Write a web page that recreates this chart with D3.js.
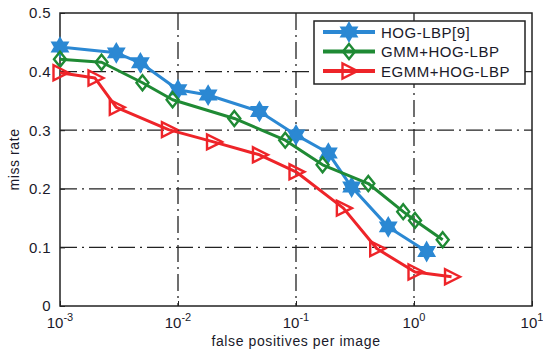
<!DOCTYPE html>
<html>
<head>
<meta charset="utf-8">
<script src="https://cdn.jsdelivr.net/npm/d3@7"></script>
<style>
  body { margin: 0; background: #fff; }
  text { font-family: "Liberation Sans", Arial, sans-serif; fill: #1a1a2a; }
</style>
</head>
<body>
<div id="chart"></div>
<script>
// values
var hogFppi = [0.001, 0.0030, 0.0048, 0.010, 0.018, 0.049, 0.10, 0.188, 0.296, 0.605, 1.28];
var hogMiss = [0.442, 0.432, 0.415, 0.369, 0.360, 0.332, 0.292, 0.261, 0.203, 0.135, 0.093];

var gmmFppi = [0.001, 0.00225, 0.0050, 0.0090, 0.030, 0.081, 0.168, 0.41, 0.81, 1.02, 1.75];
var gmmMiss = [0.421, 0.416, 0.381, 0.352, 0.320, 0.283, 0.241, 0.209, 0.161, 0.146, 0.113];

var egmmFppi = [0.001, 0.00198, 0.0030, 0.0083, 0.020, 0.049, 0.10, 0.252, 0.483, 1.02, 2.08];
var egmmMiss = [0.398, 0.389, 0.339, 0.301, 0.280, 0.258, 0.229, 0.167, 0.098, 0.058, 0.050];

var seriesNames = ["HOG-LBP[9]", "GMM+HOG-LBP", "EGMM+HOG-LBP"];
var seriesColors = ["#2b88d3", "#1f8a34", "#ee2429"];
var seriesMarkers = ["hexagram", "diamond", "triangleRight"];

var xTicks = [1e-3, 1e-2, 1e-1, 1e0, 1e1];
var xExps = ["-3", "-2", "-1", "0", "1"];
var yTicks = [0, 0.1, 0.2, 0.3, 0.4, 0.5];

var W = 543, H = 358;
var margin = {top: 13, right: 11, bottom: 52, left: 60};
var width = W - margin.left - margin.right,
    height = H - margin.top - margin.bottom;

var svg = d3.select("#chart").append("svg")
  .attr("width", W)
  .attr("height", H);
var g = svg.append("g")
  .attr("transform", "translate(" + margin.left + "," + margin.top + ")");

var x = d3.scaleLog().domain([1e-3, 1e1]).range([0, width]);
var y = d3.scaleLinear().domain([0, 0.5]).range([height, 0]);

var series = [
  {fppi: hogFppi, miss: hogMiss},
  {fppi: gmmFppi, miss: gmmMiss},
  {fppi: egmmFppi, miss: egmmMiss}
].map(function(s, i) {
  return {
    name: seriesNames[i], color: seriesColors[i], marker: seriesMarkers[i],
    points: s.fppi.map(function(f, j) { return {x: f, y: s.miss[j]}; })
  };
});

// marker shapes
function markerPath(type) {
  var p = d3.path();
  if (type == "hexagram") {
    var ro = 8.5, ri = ro / Math.sqrt(3);
    for (var k = 0; k < 12; k++) {
      var r = k % 2 == 0 ? ro : ri;
      var a = -Math.PI / 2 + k * Math.PI / 6;
      if (k == 0) p.moveTo(r * Math.cos(a), r * Math.sin(a));
      else p.lineTo(r * Math.cos(a), r * Math.sin(a));
    }
    p.closePath();
  } else if (type == "diamond") {
    p.moveTo(0, -7.5); p.lineTo(6, 0); p.lineTo(0, 7.5); p.lineTo(-6, 0); p.closePath();
  } else {
    p.moveTo(8.5, 0); p.lineTo(-6.5, -7.5); p.lineTo(-6.5, 7.5); p.closePath();
  }
  return p.toString();
}

// grid
var dash = "17,5,2,5";
g.selectAll(".xgrid")
  .data(xTicks.slice(1, -1))
  .enter().append("line")
  .attr("x1", d => x(d)).attr("x2", d => x(d))
  .attr("y1", 0).attr("y2", height)
  .attr("stroke", "#222").attr("stroke-width", 1.3)
  .attr("stroke-dasharray", dash);
g.selectAll(".ygrid")
  .data(yTicks.slice(1, -1))
  .enter().append("line")
  .attr("x1", 0).attr("x2", width)
  .attr("y1", d => y(d)).attr("y2", d => y(d))
  .attr("stroke", "#222").attr("stroke-width", 1.3)
  .attr("stroke-dasharray", dash);

// frame
g.append("rect")
  .attr("width", width).attr("height", height)
  .attr("fill", "none").attr("stroke", "#222").attr("stroke-width", 1.5);

// axes (ticks inside, custom labels)
var yAxis = g.append("g")
  .call(d3.axisLeft(y).tickValues(yTicks).tickSize(-5).tickPadding(9)
    .tickFormat(d => d == 0 ? "0" : d3.format(".1f")(d)));
yAxis.select(".domain").remove();
yAxis.selectAll("line").attr("stroke", "#222");
yAxis.selectAll("text")
  .style("font-size", "15px")
  .style("letter-spacing", "0.4px")
  .style("font-family", "Liberation Sans, Arial, sans-serif")
  .attr("fill", "#1a1a2a");

var xAxis = g.append("g")
  .attr("transform", "translate(0," + height + ")")
  .call(d3.axisBottom(x).tickValues(xTicks).tickSize(-5).tickFormat(""));
xAxis.select(".domain").remove();
xAxis.selectAll("line").attr("stroke", "#222");

var xLab = g.selectAll(".xlab")
  .data(xTicks)
  .enter().append("text")
  .attr("x", d => x(d))
  .attr("y", height + 22)
  .attr("text-anchor", "middle")
  .style("font-size", "15px");
xLab.append("tspan").text("10");
xLab.append("tspan")
  .attr("dy", -7)
  .style("font-size", "11px")
  .text((d, i) => xExps[i]);

// axis titles
svg.append("text")
  .attr("x", margin.left + width / 2)
  .attr("y", 346)
  .attr("text-anchor", "middle")
  .style("font-size", "14px")
  .style("letter-spacing", "0.6px")
  .text("false positives per image");
svg.append("text")
  .attr("transform", "translate(19," + (margin.top + height / 2) + ")rotate(-90)")
  .attr("text-anchor", "middle")
  .style("font-size", "14px")
  .style("letter-spacing", "0.6px")
  .text("miss rate");

// lines + markers
var line = d3.line().x(d => x(d.x)).y(d => y(d.y));
var sg = g.selectAll(".series")
  .data(series)
  .enter().append("g");
sg.append("path")
  .attr("d", d => line(d.points))
  .attr("fill", "none")
  .attr("stroke", d => d.color)
  .attr("stroke-width", 3)
  .attr("stroke-linejoin", "round");
sg.each(function(s) {
  d3.select(this).selectAll("path.mk")
    .data(s.points)
    .enter().append("path")
    .attr("class", "mk")
    .attr("transform", d => "translate(" + x(d.x) + "," + y(d.y) + ")")
    .attr("d", markerPath(s.marker))
    .attr("fill", s.marker == "hexagram" ? s.color : "none")
    .attr("stroke", s.color)
    .attr("stroke-width", 2.4)
    .attr("stroke-linejoin", "miter");
});

// legend
var legend = svg.append("g").attr("transform", "translate(314,21)");
legend.append("rect")
  .attr("width", 211).attr("height", 63)
  .attr("fill", "#fff").attr("stroke", "#222").attr("stroke-width", 1.5);
var items = legend.selectAll(".item")
  .data(series)
  .enter().append("g")
  .attr("transform", (d, i) => "translate(0," + (11 + i * 19.5) + ")");
items.append("line")
  .attr("x1", 9).attr("x2", 61)
  .attr("stroke", d => d.color).attr("stroke-width", 4);
items.append("path")
  .attr("transform", "translate(35,0)")
  .attr("d", d => markerPath(d.marker))
  .attr("fill", d => d.marker == "hexagram" ? d.color : "none")
  .attr("stroke", d => d.color)
  .attr("stroke-width", 2.4);
items.append("text")
  .attr("x", 67).attr("y", 5.5)
  .style("font-size", "15px")
  .style("letter-spacing", "0.5px")
  .text(d => d.name);
</script>
</body>
</html>
